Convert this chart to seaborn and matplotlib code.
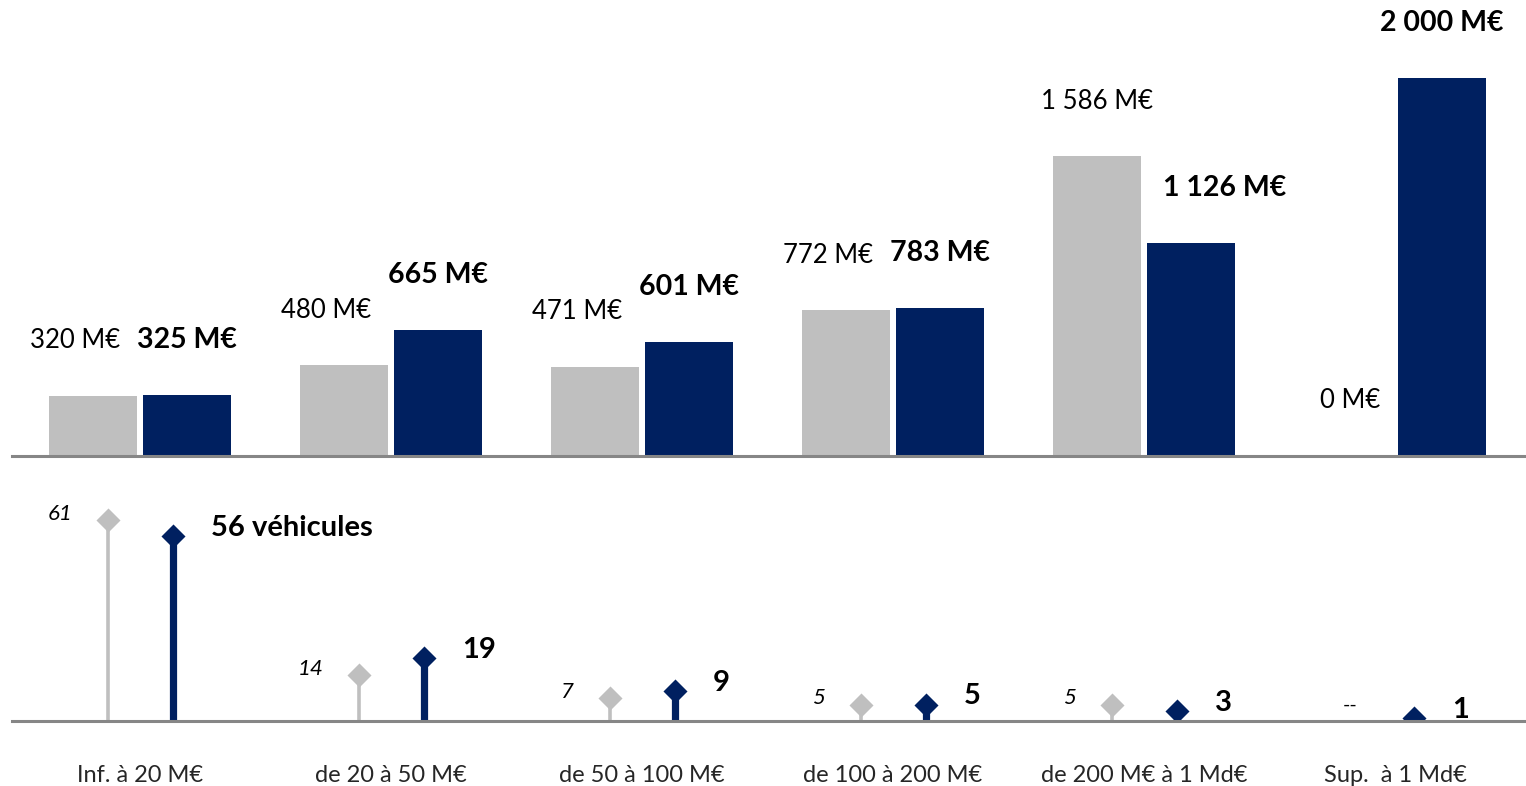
import pandas as pd
import matplotlib
matplotlib.use("Agg")
import matplotlib.pyplot as plt
import seaborn as sns

# ---------------- Data ---------------- #
categories = ["Inf. à 20 M€", "de 20 à 50 M€", "de 50 à 100 M€",
              "de 100 à 200 M€", "de 200 M€ à 1 Md€", "Sup.  à 1 Md€"]
series = ["avant", "apres"]
amount_before = [320, 480, 471, 772, 1586, 0]      # M€ (grey)
amount_after = [325, 665, 601, 783, 1126, 2000]    # M€ (navy)
count_before = [61, 14, 7, 5, 5, None]             # véhicules (grey)
count_after = [56, 19, 9, 5, 3, 1]                 # véhicules (navy)

GREY = "#BFBFBF"
NAVY = "#002060"
AXIS = "#868686"

W, H = 1526, 786


def px(p):
    """pixels -> points at dpi 100"""
    return p * 72 / 100


sns.set_style("white")
plt.rcParams["font.family"] = ["Lato", "DejaVu Sans"]

fig = plt.figure(figsize=(W / 100, H / 100), dpi=100)
ax_top = fig.add_axes([12 / W, (H - 456) / H, 1512 / W, 456 / H])
ax_bot = fig.add_axes([12 / W, 65 / H, 1512 / W, 251 / H])

xlim = (-0.51, 5.514)

# ---------------- Top: amounts ---------------- #
bars = pd.DataFrame({
    "cat": categories * 2,
    "serie": [series[0]] * 6 + [series[1]] * 6,
    "val": amount_before + amount_after,
})
sns.barplot(data=bars, x="cat", y="val", hue="serie", order=categories,
            hue_order=series, palette=[GREY, NAVY], saturation=1,
            width=0.749, gap=0.064, linewidth=0, legend=False, ax=ax_top)
ax_top.set_xlim(*xlim)
ax_top.set_ylim(0, 456 / 0.189)

slot = 0.749 / 4
grey_dx = [-18, -18, -18, -18, 0, 2]
navy_dx = [0, 0, 0, 0, 34, 0]
for i in range(len(categories)):
    ax_top.annotate(f"{amount_before[i]:,}".replace(",", " ") + " M€",
                    xy=(i - slot, amount_before[i]),
                    xytext=(px(grey_dx[i]), px(55)), textcoords="offset points",
                    ha="center", va="center", fontsize=18.5, color="black")
    ax_top.annotate(f"{amount_after[i]:,}".replace(",", " ") + " M€",
                    xy=(i + slot, amount_after[i]),
                    xytext=(px(navy_dx[i]), px(55)), textcoords="offset points",
                    ha="center", va="center", fontsize=20.5, fontweight="bold",
                    color="black")

# ---------------- Bottom: vehicle counts ---------------- #
grey_off = [-0.127] * 5 + [-0.18]
navy_off = [0.131] * 5 + [0.076]
gx = [i + o for i, o in enumerate(grey_off)]
nx = [i + o for i, o in enumerate(navy_off)]
gy = [v if v is not None else float("nan") for v in count_before]

ax_bot.vlines([x for x, v in zip(gx, count_before) if v is not None], 0,
              [v for v in count_before if v is not None],
              color=GREY, lw=2.6, zorder=2)
ax_bot.vlines(nx, 0, count_after, color=NAVY, lw=5.2, zorder=2)
sns.scatterplot(x=gx, y=gy, marker="D", s=150, color=GREY,
                linewidth=0, zorder=3, ax=ax_bot)
sns.scatterplot(x=nx, y=count_after, marker="D", s=150, color=NAVY,
                linewidth=0, zorder=3, ax=ax_bot)
ax_bot.set_xlim(*xlim)
ax_bot.set_ylim(0, 251 / 3.3)

for i in range(len(categories)):
    if count_before[i] is None:
        ax_bot.annotate("--", xy=(gx[i], 0), xytext=(0, px(16)),
                        textcoords="offset points", ha="center", va="center",
                        fontsize=14, color="black")
    else:
        ax_bot.annotate(str(count_before[i]), xy=(gx[i], count_before[i]),
                        xytext=(px(-36), px(6)), textcoords="offset points",
                        ha="right", va="center", fontsize=16, style="italic",
                        color="black")
    label = f"{count_after[i]} véhicules" if i == 0 else str(count_after[i])
    ax_bot.annotate(label, xy=(nx[i], count_after[i]),
                    xytext=(px(38), px(8)), textcoords="offset points",
                    ha="left", va="center", fontsize=21, fontweight="bold",
                    color="black")

ax_bot.set_xticks(range(len(categories)))
ax_bot.set_xticklabels(categories, fontsize=17)
ax_bot.tick_params(axis="x", length=0, pad=px(44))

for ax in (ax_top, ax_bot):
    ax.set_xlabel("")
    ax.set_ylabel("")
    ax.set_yticks([])
    for side in ("top", "left", "right"):
        ax.spines[side].set_visible(False)
    ax.spines["bottom"].set_color(AXIS)
    ax.spines["bottom"].set_linewidth(2.2)
    ax.spines["bottom"].set_zorder(4)
    ax.patch.set_alpha(0)
ax_top.set_xticks([])

fig.savefig("out.png", dpi=100, facecolor="white")
